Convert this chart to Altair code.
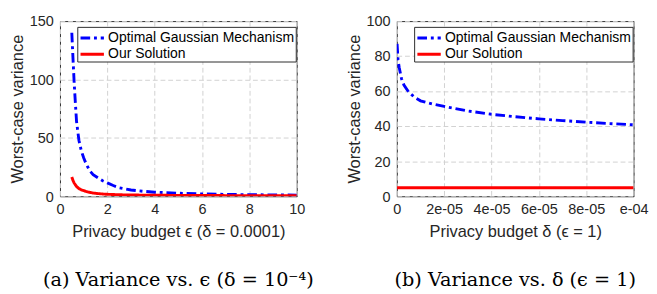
import altair as alt
import pandas as pd

SERIES = ["Optimal Gaussian Mechanism", "Our Solution"]

# Panel (a): variance vs epsilon (delta = 1e-4)
eps_gauss = [0.5, 0.55, 0.6, 0.65, 0.7, 0.8, 0.9, 1.0, 1.1, 1.25, 1.4, 1.6, 1.8, 2.0,
             2.25, 2.5, 3.0, 3.5, 4.0, 5.0, 6.0, 7.0, 8.0, 9.0, 10.0]
var_gauss_eps = [140, 118, 97, 80, 64, 48, 39, 33, 28, 22, 18.5, 15.8, 13.3, 11.5,
                 9.2, 7.3, 5.4, 4.3, 3.5, 2.6, 2.0, 1.6, 1.35, 1.15, 1.0]
eps_ours = [0.5, 0.55, 0.6, 0.7, 0.8, 0.9, 1.0, 1.1, 1.25, 1.4, 1.6, 1.8, 2.0, 2.5,
            3.0, 4.0, 5.0, 6.0, 8.0, 10.0]
var_ours_eps = [16.5, 13.5, 11.3, 8.4, 6.6, 5.5, 4.8, 4.2, 3.4, 2.8, 2.3, 1.95, 1.7, 1.3,
                1.1, 0.9, 0.75, 0.65, 0.55, 0.5]

# Panel (b): variance vs delta (epsilon = 1)
delta_gauss = [1e-7, 5e-7, 1e-6, 2e-6, 3e-6, 5e-6, 7.5e-6, 1e-5, 1.5e-5, 2e-5, 3e-5,
               4e-5, 5e-5, 6e-5, 7e-5, 8e-5, 9e-5, 1e-4]
var_gauss_delta = [87, 78, 73.5, 67, 63.5, 59.5, 56.5, 54.5, 52.7, 51.3, 48.7,
                   46.8, 45.4, 44.2, 43.2, 42.3, 41.5, 40.8]
delta_ours = [1e-7, 2e-5, 4e-5, 6e-5, 8e-5, 1e-4]
var_ours_delta = [4.9, 4.9, 4.9, 4.9, 4.9, 4.9]

eps_ticks = [0, 2, 4, 6, 8, 10]
var_ticks_a = [0, 50, 100, 150]
delta_ticks = [0, 2e-5, 4e-5, 6e-5, 8e-5, 1e-4]
delta_tick_labels = ["0", "2e-05", "4e-05", "6e-05", "8e-05", "e-04"]
var_ticks_b = [0, 20, 40, 60, 80, 100]

df_a = pd.concat([
    pd.DataFrame({"x": eps_gauss, "y": var_gauss_eps, "s": SERIES[0]}),
    pd.DataFrame({"x": eps_ours, "y": var_ours_eps, "s": SERIES[1]}),
])
df_b = pd.concat([
    pd.DataFrame({"x": delta_gauss, "y": var_gauss_delta, "s": SERIES[0]}),
    pd.DataFrame({"x": delta_ours, "y": var_ours_delta, "s": SERIES[1]}),
])

expr = "''"
for v, lab in reversed(list(zip(delta_ticks, delta_tick_labels))):
    expr = f"abs(datum.value - {v}) < 1e-9 ? '{lab}' : ({expr})"

FONT = "Liberation Sans"
INK = "#262626"


def panel(df, xdom, ydom, xticks, yticks, xtitle, caption, label_expr=None):
    xaxis_kw = dict(values=xticks, title=xtitle, grid=True, labelFlush=False)
    if label_expr:
        xaxis_kw["labelExpr"] = label_expr
    leg = alt.Legend(title=None, orient="none", legendX=18, legendY=6, labelLimit=0)
    return alt.Chart(df).mark_line(strokeWidth=3, clip=True).encode(
        x=alt.X("x:Q", scale=alt.Scale(domain=xdom, nice=False, zero=False),
                axis=alt.Axis(**xaxis_kw)),
        y=alt.Y("y:Q", scale=alt.Scale(domain=ydom, nice=False),
                axis=alt.Axis(values=yticks, title="Worst-case variance")),
        color=alt.Color("s:N", scale=alt.Scale(domain=SERIES, range=["#0000ff", "#ff0000"]),
                        legend=leg),
        strokeDash=alt.StrokeDash("s:N", scale=alt.Scale(domain=SERIES, range=[[10, 4, 3, 4], [1, 0]]),
                                  legend=leg),
        order=alt.Order("x:Q"),
    ).properties(
        width=246, height=182,
        title=alt.TitleParams(caption, orient="bottom", anchor="middle", frame="group",
                              font="DejaVu Serif", fontSize=20, fontWeight="normal",
                              color="black", offset=32),
    )


pa = panel(df_a, [0, 10], [0, 150], eps_ticks, var_ticks_a,
           "Privacy budget ϵ (δ = 0.0001)", "(a) Variance vs. ϵ (δ = 10⁻⁴)")
pb = panel(df_b, [0, 1e-4], [0, 100], delta_ticks, var_ticks_b,
           "Privacy budget δ (ϵ = 1)", "(b) Variance vs. δ (ϵ = 1)", label_expr=expr)

chart = alt.hconcat(pa, pb, spacing=31).resolve_scale(
    color="independent", strokeDash="independent"
).resolve_legend(
    color="independent", strokeDash="independent"
).properties(
    padding={"left": 0, "top": 0, "right": 0, "bottom": 0}
).configure_view(
    stroke=INK, strokeWidth=1
).configure_axis(
    labelFont=FONT, labelFontSize=15, labelColor=INK,
    titleFont=FONT, titleFontSize=17, titleColor=INK, titleFontWeight="normal",
    domain=False, ticks=False, labelPadding=7,
    gridColor="#d0d0d0", gridDash=[5, 3], gridWidth=1,
).configure_axisX(
    titlePadding=8, labelPadding=6,
).configure_axisY(
    titlePadding=3,
).configure_legend(
    fillColor="white", strokeColor=INK, padding=1, labelFont=FONT, labelFontSize=14.5,
    labelColor="black", symbolType="M-1.35,0H1.35", symbolSize=324, symbolStrokeWidth=3,
    symbolOffset=4, rowPadding=0, labelOffset=6, cornerRadius=0,
)

chart.save("out.html", embed_options={"renderer": "svg", "actions": False})
